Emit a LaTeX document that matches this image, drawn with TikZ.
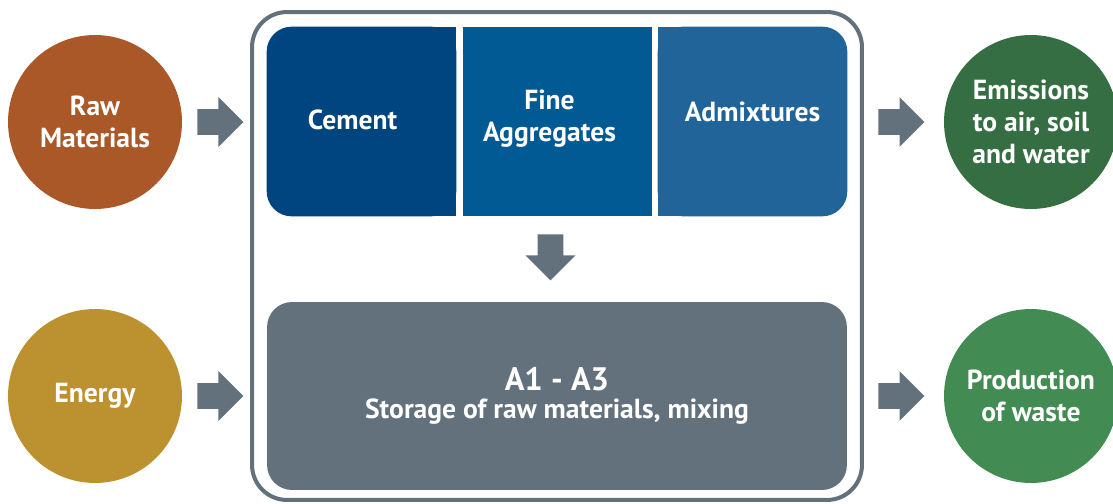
\documentclass[tikz,border=0pt]{standalone}
\usepackage{fontspec}
\setmainfont{PT Sans}
\usetikzlibrary{positioning}
\usetikzlibrary{shapes.arrows}
\usetikzlibrary{backgrounds}
\definecolor{rawcol}{HTML}{AA5827}
\definecolor{energycol}{HTML}{BC9130}
\definecolor{emitcol}{HTML}{356E42}
\definecolor{wastecol}{HTML}{428B52}
\definecolor{cementcol}{HTML}{00457F}
\definecolor{finecol}{HTML}{015A93}
\definecolor{admixcol}{HTML}{21649A}
\definecolor{greycol}{HTML}{63717C}
\tikzstyle{srcnode} = [circle, minimum size=3.48cm, inner sep=0, text=white, align=center, font=\bfseries\fontsize{15.7}{18.2}\selectfont]
\tikzstyle{matnode} = [rectangle, minimum width=3.78cm, minimum height=3.78cm, inner sep=0]
\tikzstyle{matlabel} = [text=white, align=center, font=\bfseries\fontsize{15.7}{18.2}\selectfont]
\tikzstyle{flowarrow} = [single arrow, fill=greycol, anchor=tail, minimum height=0.92cm, inner xsep=0, inner ysep=0.25cm, single arrow head extend=0.24cm]

\begin{document}
\begin{tikzpicture}[x=0.02cm, y=-0.02cm]
    \useasboundingbox (0,0) rectangle (1113,504);

    % inputs and outputs
    \node[srcnode, fill=rawcol] (raw_mat) at (95,122) {Raw\\Materials};
    \node[srcnode, fill=energycol] (energy) at (95,396) {Energy};
    \node[srcnode, fill=emitcol] (emissions) at (1031,122) {Emissions\\to air, soil\\and water};
    \node[srcnode, fill=wastecol] (waste) at (1031,396) {Production\\of waste};

    % system boundary
    \node[draw=greycol, line width=2.3pt, rounded corners=0.7cm, minimum width=12.2cm, minimum height=9.76cm] (frame) at (557,256) {};

    % constituents
    \node[matnode, label={[matlabel, xshift=-0.18cm, yshift=0.04cm]center:Cement}] (cement) at (361.5,121.5) {};
    \node[matnode, fill=finecol, label={[matlabel, xshift=-0.16cm, yshift=0.06cm]center:Fine\\Aggregates}] (fine_agg) at (557.5,121.5) {};
    \node[matnode, label={[matlabel, yshift=0.2cm]center:Admixtures}] (admix) at (752.5,121.5) {};
    \begin{scope}[on background layer]
        \fill[cementcol, rounded corners=0.5cm] (cement.north west) rectangle (cement.south east);
        \fill[cementcol] (cement.north) rectangle (cement.south east);
        \fill[admixcol, rounded corners=0.5cm] (admix.north west) rectangle (admix.south east);
        \fill[admixcol] (admix.north west) rectangle (admix.south);
    \end{scope}

    \node[rectangle, fill=greycol, rounded corners=0.5cm, minimum width=11.6cm, minimum height=3.76cm, text=white, align=center, font=\bfseries\fontsize{15.7}{16}\selectfont] (process) at (557,396)
{{\fontsize{18.5}{16}\selectfont A1 - A3}\\Storage of raw materials, mixing};

    % flow arrows
    \node[flowarrow] (arr_raw) at (197,122) {};
    \node[flowarrow] (arr_energy) at (197,396) {};
    \node[flowarrow] (arr_emit) at (878,122) {};
    \node[flowarrow] (arr_waste) at (878,396) {};
    \node[flowarrow, rotate=-90] (arr_mix) at (550.5,234) {};
\end{tikzpicture}
\end{document}
